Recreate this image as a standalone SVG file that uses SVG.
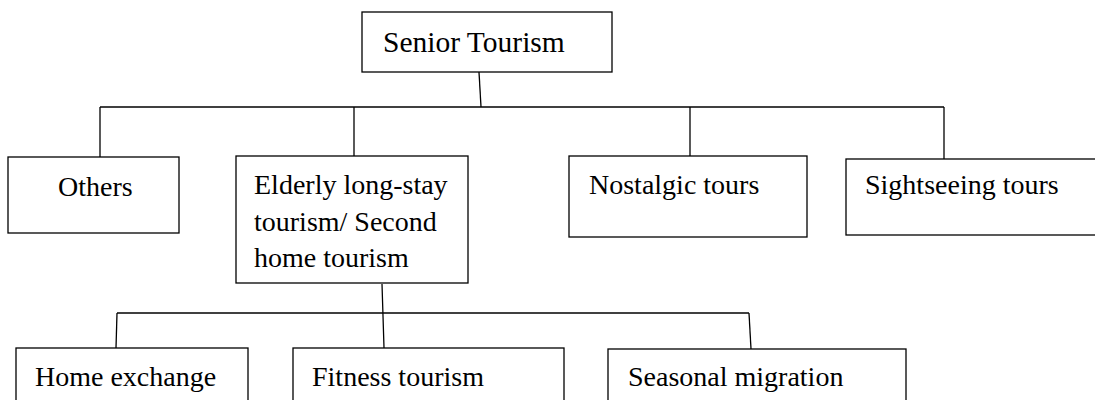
<svg xmlns="http://www.w3.org/2000/svg" width="1095" height="400" viewBox="0 0 1095 400">
  <style>
    .box { fill: #ffffff; stroke: #000000; stroke-width: 1.3; }
    .lbl { font-family: "Liberation Serif", "Times New Roman", serif; font-size: 28px; fill: #000000; }
    .title { font-size: 29.5px; }
    .wire { fill: none; stroke: #000000; stroke-width: 1.3; }
  </style>
  <rect x="0" y="0" width="1095" height="400" fill="#ffffff"/>

  <!-- tree connectors -->
  <g id="connectors">
    <line class="wire" x1="479" y1="72" x2="481" y2="107"/>
    <line class="wire" x1="100" y1="107" x2="944" y2="107"/>
    <line class="wire" x1="100" y1="107" x2="100" y2="157"/>
    <line class="wire" x1="354" y1="107" x2="354" y2="156"/>
    <line class="wire" x1="690" y1="107" x2="690" y2="156"/>
    <line class="wire" x1="944" y1="107" x2="944" y2="159"/>
    <line class="wire" x1="382" y1="284" x2="384" y2="348"/>
    <line class="wire" x1="117" y1="313" x2="749" y2="313"/>
    <line class="wire" x1="117" y1="313" x2="116" y2="348"/>
    <line class="wire" x1="749" y1="313" x2="751" y2="349"/>
  </g>

  <g id="senior-tourism">
    <rect class="box" x="362" y="12" width="250" height="60"/>
    <text class="lbl title" x="383" y="52">Senior Tourism</text>
  </g>

  <g id="others">
    <rect class="box" x="8" y="157" width="171" height="76"/>
    <text class="lbl" x="58" y="196">Others</text>
  </g>

  <g id="elderly-long-stay">
    <rect class="box" x="236" y="156" width="232" height="127"/>
    <text class="lbl" x="254" y="194">Elderly long-stay</text>
    <text class="lbl" x="254" y="231">tourism/ Second</text>
    <text class="lbl" x="254" y="267">home tourism</text>
  </g>

  <g id="nostalgic-tours">
    <rect class="box" x="569" y="156" width="238" height="81"/>
    <text class="lbl" x="589" y="194">Nostalgic tours</text>
  </g>

  <g id="sightseeing-tours">
    <rect class="box" x="846" y="159" width="260" height="76"/>
    <text class="lbl" x="865" y="194">Sightseeing tours</text>
  </g>

  <g id="home-exchange">
    <rect class="box" x="16" y="348" width="232" height="70"/>
    <text class="lbl" x="35" y="386">Home exchange</text>
  </g>

  <g id="fitness-tourism">
    <rect class="box" x="293" y="348" width="271" height="70"/>
    <text class="lbl" x="312" y="386">Fitness tourism</text>
  </g>

  <g id="seasonal-migration">
    <rect class="box" x="608" y="349" width="298" height="70"/>
    <text class="lbl" x="628" y="386">Seasonal migration</text>
  </g>
</svg>
